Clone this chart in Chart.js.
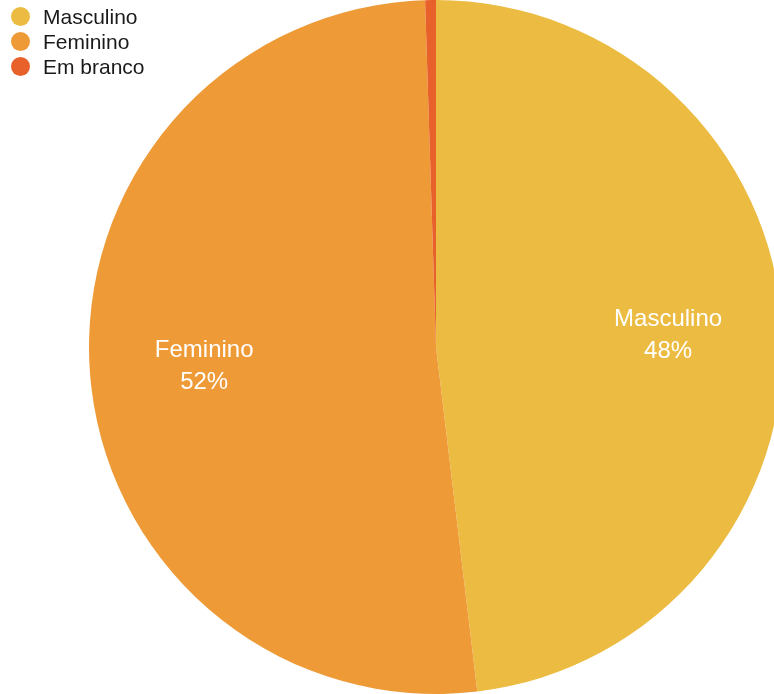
<!DOCTYPE html>
<html>
<head>
<meta charset="utf-8">
<script src="https://cdn.jsdelivr.net/npm/chart.js@4/dist/chart.umd.min.js"></script>
<style>
  html, body { margin: 0; padding: 0; background: #fff; overflow: hidden; width: 774px; height: 694px; }
  #wrap { position: relative; width: 872px; height: 694px; }
  #legend { position: absolute; left: 11px; top: 4px; font-family: "Liberation Sans", Arial, sans-serif; font-size: 21px; color: #1a1a1a; }
  #legend div { height: 25px; line-height: 25px; display: flex; align-items: center; }
  #legend span.dot { display: inline-block; width: 19px; height: 19px; border-radius: 50%; margin-right: 13px; }
</style>
</head>
<body>
<div id="wrap">
  <canvas id="genderChart" width="872" height="694"></canvas>
  <div id="legend"></div>
</div>
<script>
// categories and shares (%)
var genders = ["Masculino", "Feminino", "Em branco"];
var shares = [48.1, 51.4, 0.5];
var pctLabels = ["48%", "52%", ""];
var colors = ["#ecbc42", "#ee9a37", "#e8602a"];

// legend, built from the arrays
var legend = document.getElementById("legend");
genders.forEach(function (g, i) {
  var row = document.createElement("div");
  row.innerHTML = '<span class="dot" style="background:' + colors[i] + '"></span>' + g;
  legend.appendChild(row);
});

// white labels inside the slices
var sliceLabels = {
  id: "sliceLabels",
  afterDatasetsDraw: function (chart) {
    var ctx = chart.ctx;
    var meta = chart.getDatasetMeta(0);
    ctx.save();
    ctx.fillStyle = "#fff";
    ctx.font = "24px 'Liberation Sans', Arial, sans-serif";
    ctx.textAlign = "center";
    ctx.textBaseline = "middle";
    meta.data.forEach(function (arc, i) {
      if (!pctLabels[i]) return;
      var p = arc.getProps(["x", "y", "startAngle", "endAngle", "outerRadius"], true);
      var mid = (p.startAngle + p.endAngle) / 2;
      var r = p.outerRadius * 0.67;
      var x = p.x + Math.cos(mid) * r;
      var y = p.y + Math.sin(mid) * r;
      ctx.fillText(genders[i], x, y - 14);
      ctx.fillText(pctLabels[i], x, y + 18);
    });
    ctx.restore();
  }
};

var chart = new Chart(document.getElementById("genderChart"), {
  type: 'pie',
  data: {
    labels: genders,
    datasets: [
      {
        data: shares,
        backgroundColor: colors,
        borderWidth: 0
      }
    ]
  },
  options: {
    responsive: false,
    animation: false,
    plugins: {
      legend: { display: false },
      tooltip: { enabled: false }
    }
  },
  plugins: [sliceLabels]
});
</script>
</body>
</html>
